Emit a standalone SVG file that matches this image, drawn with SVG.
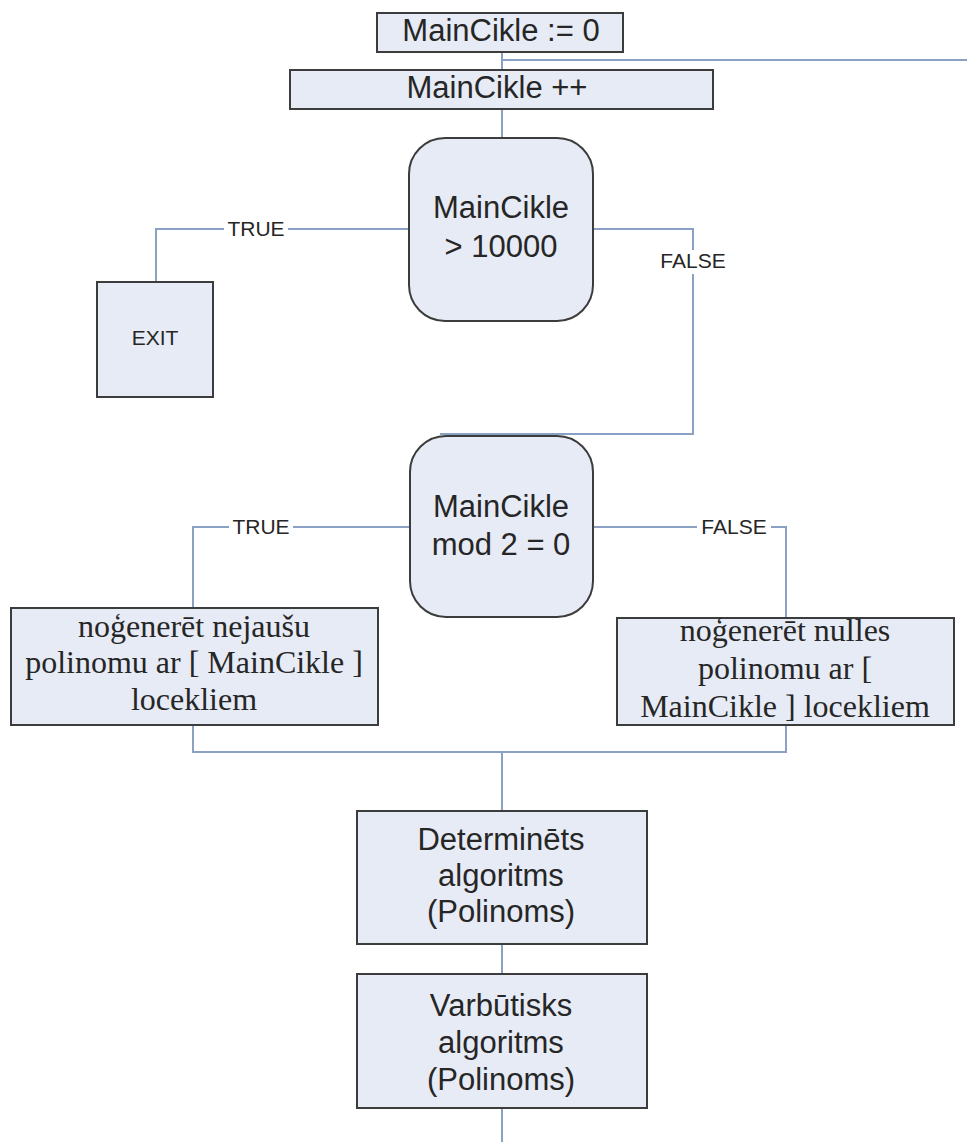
<svg xmlns="http://www.w3.org/2000/svg" width="967" height="1142" viewBox="0 0 967 1142">
  <style>
    .box { fill: #e6ebf5; stroke: #3c3c3c; stroke-width: 2; }
    .wire { fill: none; stroke: #8aa0c4; stroke-width: 2; }
    .t { font-family: "Liberation Sans", Arial, sans-serif; font-size: 31px; fill: #262626; text-anchor: middle; }
    .ts { font-family: "Liberation Serif", "Times New Roman", serif; font-size: 32px; fill: #262626; text-anchor: middle; }
    .lbl { font-family: "Liberation Sans", Arial, sans-serif; font-size: 21px; fill: #262626; text-anchor: middle; }
    .lblbg { fill: #ffffff; }
  </style>

  <rect width="967" height="1142" fill="#ffffff"/>

  <!-- connectors -->
  <g id="connectors">
    <path class="wire" d="M502 52 V70"/>
    <path class="wire" d="M502 60 H967"/>
    <path class="wire" d="M502 109 V138"/>
    <path class="wire" d="M409 229 H156 V282"/>
    <path class="wire" d="M593 229 H693 V434 H440"/>
    <path class="wire" d="M410 527 H193 V608"/>
    <path class="wire" d="M593 527 H786 V618"/>
    <path class="wire" d="M193 725 V752 H786 V725"/>
    <path class="wire" d="M502 752 V811"/>
    <path class="wire" d="M502 944 V974"/>
    <path class="wire" d="M502 1108 V1142"/>
    <!-- branch labels -->
    <rect class="lblbg" x="224" y="216" width="64" height="24"/>
    <text class="lbl" x="256" y="236">TRUE</text>
    <rect class="lblbg" x="656" y="250" width="75" height="24"/>
    <text class="lbl" x="693" y="268">FALSE</text>
    <rect class="lblbg" x="229" y="514" width="64" height="24"/>
    <text class="lbl" x="261" y="534">TRUE</text>
    <rect class="lblbg" x="697" y="514" width="74" height="24"/>
    <text class="lbl" x="734" y="534">FALSE</text>
  </g>

  <g id="init">
    <rect class="box" x="377" y="13" width="246" height="39"/>
    <text class="t" x="501" y="41">MainCikle := 0</text>
  </g>

  <g id="increment">
    <rect class="box" x="290" y="70" width="423" height="39"/>
    <text class="t" x="497" y="98">MainCikle ++</text>
  </g>

  <g id="check-limit">
    <rect class="box" x="409" y="138" width="184" height="183" rx="36" ry="36"/>
    <text class="t" x="501" y="218">MainCikle</text>
    <text class="t" x="501" y="257">&gt; 10000</text>
  </g>

  <g id="exit">
    <rect class="box" x="97" y="282" width="116" height="115"/>
    <text class="lbl" x="155" y="345">EXIT</text>
  </g>

  <g id="check-parity">
    <rect class="box" x="410" y="436" width="183" height="181" rx="36" ry="36"/>
    <text class="t" x="501" y="517">MainCikle</text>
    <text class="t" x="501" y="555">mod 2 = 0</text>
  </g>

  <g id="random-poly">
    <rect class="box" x="11" y="608" width="367" height="117"/>
    <text class="ts" x="194" y="637">noģenerēt nejaušu</text>
    <text class="ts" x="194" y="673">polinomu ar [ MainCikle ]</text>
    <text class="ts" x="194" y="710">locekliem</text>
  </g>

  <g id="zero-poly">
    <rect class="box" x="617" y="618" width="337" height="107"/>
    <text class="ts" x="785" y="641">noģenerēt nulles</text>
    <text class="ts" x="785" y="679">polinomu ar [</text>
    <text class="ts" x="785" y="717">MainCikle ] locekliem</text>
  </g>

  <g id="deterministic">
    <rect class="box" x="357" y="811" width="290" height="133"/>
    <text class="t" x="501" y="850">Determinēts</text>
    <text class="t" x="501" y="886">algoritms</text>
    <text class="t" x="501" y="922">(Polinoms)</text>
  </g>

  <g id="probabilistic">
    <rect class="box" x="357" y="974" width="290" height="134"/>
    <text class="t" x="501" y="1016">Varbūtisks</text>
    <text class="t" x="501" y="1053">algoritms</text>
    <text class="t" x="501" y="1090">(Polinoms)</text>
  </g>
</svg>
